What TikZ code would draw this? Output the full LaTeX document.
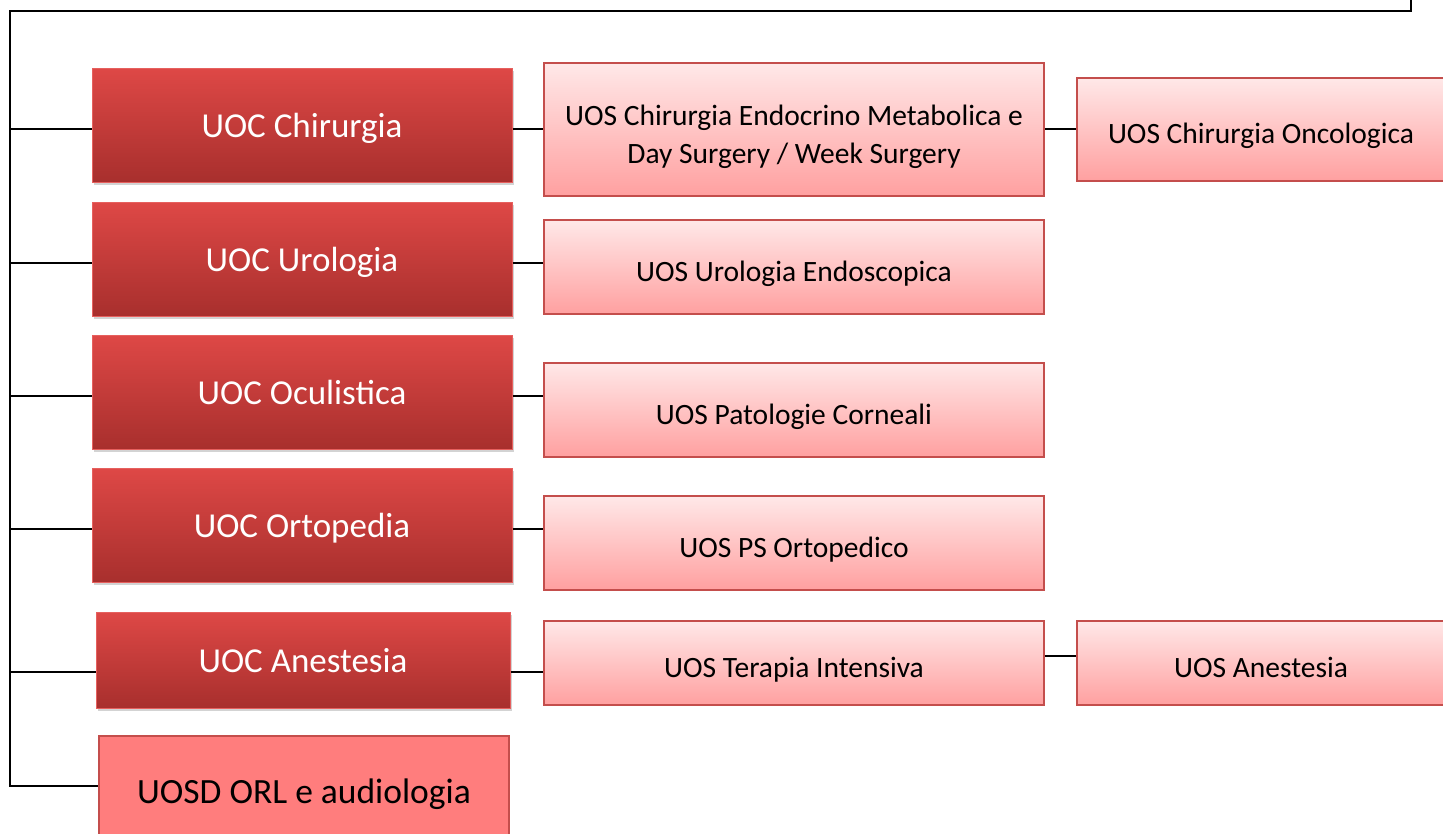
\documentclass[tikz,border=0pt]{standalone}
\usepackage{fontspec}
\setmainfont{Carlito}
\usetikzlibrary{shadows}

\definecolor{uocTop}{RGB}{222,72,70}
\definecolor{uocBot}{RGB}{168,47,45}
\definecolor{uocLine}{RGB}{230,96,94}
\definecolor{uosTop}{RGB}{255,232,232}
\definecolor{uosBot}{RGB}{255,160,160}
\definecolor{uosLine}{RGB}{196,78,76}
\definecolor{uosdFill}{RGB}{255,125,125}

\tikzset{
  uoc/.style={draw=uocLine,line width=1pt,top color=uocTop,bottom color=uocBot,
    minimum width=420,minimum height=114,inner sep=0pt,text=white,
    text height=28pt,text depth=4pt,font=\fontsize{35}{40}\selectfont,
    drop shadow={shadow xshift=2pt,shadow yshift=-3pt,opacity=.35}},
  uos/.style={draw=uosLine,line width=1.5pt,top color=uosTop,bottom color=uosBot,
    minimum width=500,minimum height=94,inner sep=0pt,text=black,
    text height=32pt,text depth=4pt,font=\fontsize{29.5}{38}\selectfont},
  uosd/.style={draw=uosLine,line width=1.5pt,fill=uosdFill,
    minimum width=410,minimum height=100,inner sep=0pt,text=black,
    text height=40pt,text depth=5pt,font=\fontsize{35.5}{40}\selectfont},
  link/.style={line width=1.6pt,black}
}

\begin{document}
\begin{tikzpicture}[x=1pt,y=-1pt]
\path[use as bounding box] (0,0) rectangle (1443,833);
% UOC units
\node[uoc] (chir) at (302,125) {UOC Chirurgia};
\node[uoc] (uro) at (302,259) {UOC Urologia};
\node[uoc] (ocu) at (302,392) {UOC Oculistica};
\node[uoc] (orto) at (302,525) {UOC Ortopedia};
\node[uoc,minimum width=414,minimum height=96] (anest) at (303,660) {UOC Anestesia};
\node[uosd] (orl) at (304,786) {UOSD ORL e audiologia};
% UOS units
\node[uos,minimum height=133,text height=75pt,text depth=7.5pt,align=center] (endo) at (794,129.5) {UOS Chirurgia Endocrino Metabolica e\\Day Surgery / Week Surgery};
\node[uos,minimum width=368,minimum height=103] (onco) at (1261,129.5) {UOS Chirurgia Oncologica};
\node[uos] (endosc) at (794,267) {UOS Urologia Endoscopica};
\node[uos] (corn) at (794,410) {UOS Patologie Corneali};
\node[uos] (psorto) at (794,543) {UOS PS Ortopedico};
\node[uos,minimum height=84] (terap) at (794,663) {UOS Terapia Intensiva};
\node[uos,minimum width=368,minimum height=84] (anestos) at (1261,663) {UOS Anestesia};
% trunk
\coordinate (top) at (1411,0);
\coordinate (b1) at (10,129);
\coordinate (b2) at (10,263);
\coordinate (b3) at (10,396);
\coordinate (b4) at (10,529);
\coordinate (b5) at (10,672);
\coordinate (b6) at (10,786);
\draw[link] (top) -- ++(0,11) -| (b6) -- (orl.west);
\draw[link] (b1) -- (b1 -| chir.west);
\draw[link] (b2) -- (b2 -| uro.west);
\draw[link] (b3) -- (b3 -| ocu.west);
\draw[link] (b4) -- (b4 -| orto.west);
\draw[link] (b5) -- (b5 -| anest.west);
% UOC to UOS
\draw[link] (b1 -| chir.east) -- (b1 -| endo.west);
\draw[link] (b2 -| uro.east) -- (b2 -| endosc.west);
\draw[link] (b3 -| ocu.east) -- (b3 -| corn.west);
\draw[link] (b4 -| orto.east) -- (b4 -| psorto.west);
\draw[link] (b5 -| anest.east) -- (b5 -| terap.west);
\draw[link] (b1 -| endo.east) -- (b1 -| onco.west);
\draw[link] ([yshift=7pt]terap.east) -- ([yshift=7pt]anestos.west);
\end{tikzpicture}
\end{document}
